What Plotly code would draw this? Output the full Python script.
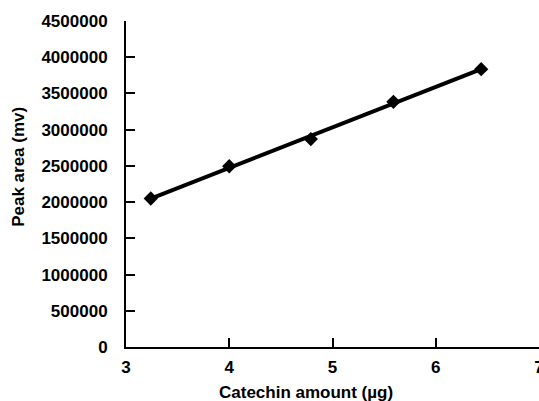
import numpy as np
import plotly.graph_objects as go

catechin_ug = [3.24, 4.0, 4.79, 5.59, 6.44]
peak_area = [2050000, 2495000, 2870000, 3385000, 3835000]
x_ticks = [3, 4, 5, 6, 7]
y_ticks = [0, 500000, 1000000, 1500000, 2000000, 2500000, 3000000, 3500000, 4000000, 4500000]

slope, intercept = np.polyfit(catechin_ug, peak_area, 1)
fit_x = [min(catechin_ug), max(catechin_ug)]
fit_y = [slope * v + intercept for v in fit_x]

FONT = "Liberation Sans, Arial, sans-serif"

fig = go.Figure()
fig.add_trace(go.Scatter(x=fit_x, y=fit_y, mode="lines",
                         line=dict(color="black", width=4), showlegend=False, hoverinfo="skip"))
fig.add_trace(go.Scatter(x=catechin_ug, y=peak_area, mode="markers",
                         marker=dict(symbol="diamond", size=11, color="black"), showlegend=False))

fig.update_layout(
    width=539, height=401,
    margin=dict(l=126, r=0, t=21, b=54),
    plot_bgcolor="white", paper_bgcolor="white",
    font=dict(family=FONT, size=17, color="black"),
    xaxis=dict(range=[3, 7], tickvals=x_ticks, ticktext=[str(v) for v in x_ticks],
               showgrid=False, zeroline=False, showline=True, linecolor="black", linewidth=2,
               ticks="inside", ticklen=9, tickwidth=2, tickcolor="black",
               tickfont=dict(family=FONT, size=17, color="black", weight="bold"),
               ticklabelstandoff=4, ticklabeloverflow="allow", automargin=False),
    yaxis=dict(range=[0, 4500000], tickvals=y_ticks, ticktext=[str(v) for v in y_ticks],
               showgrid=False, zeroline=False, showline=True, linecolor="black", linewidth=2,
               ticks="inside", ticklen=9, tickwidth=2, tickcolor="black",
               tickfont=dict(family=FONT, size=17, color="black", weight="bold"),
               ticklabelstandoff=13, automargin=False),
    annotations=[
        dict(text="<b>Peak area (mv)</b>", xref="paper", yref="paper", x=-0.262, y=0.552,
             xanchor="center", yanchor="middle", textangle=-90, showarrow=False,
             font=dict(family=FONT, size=17, color="black")),
        dict(text="<b>Catechin amount (µg)</b>", xref="paper", yref="paper", x=0.436, y=-0.14,
             xanchor="center", yanchor="middle", showarrow=False,
             font=dict(family=FONT, size=17, color="black")),
    ],
)

fig.write_html("out.html")
